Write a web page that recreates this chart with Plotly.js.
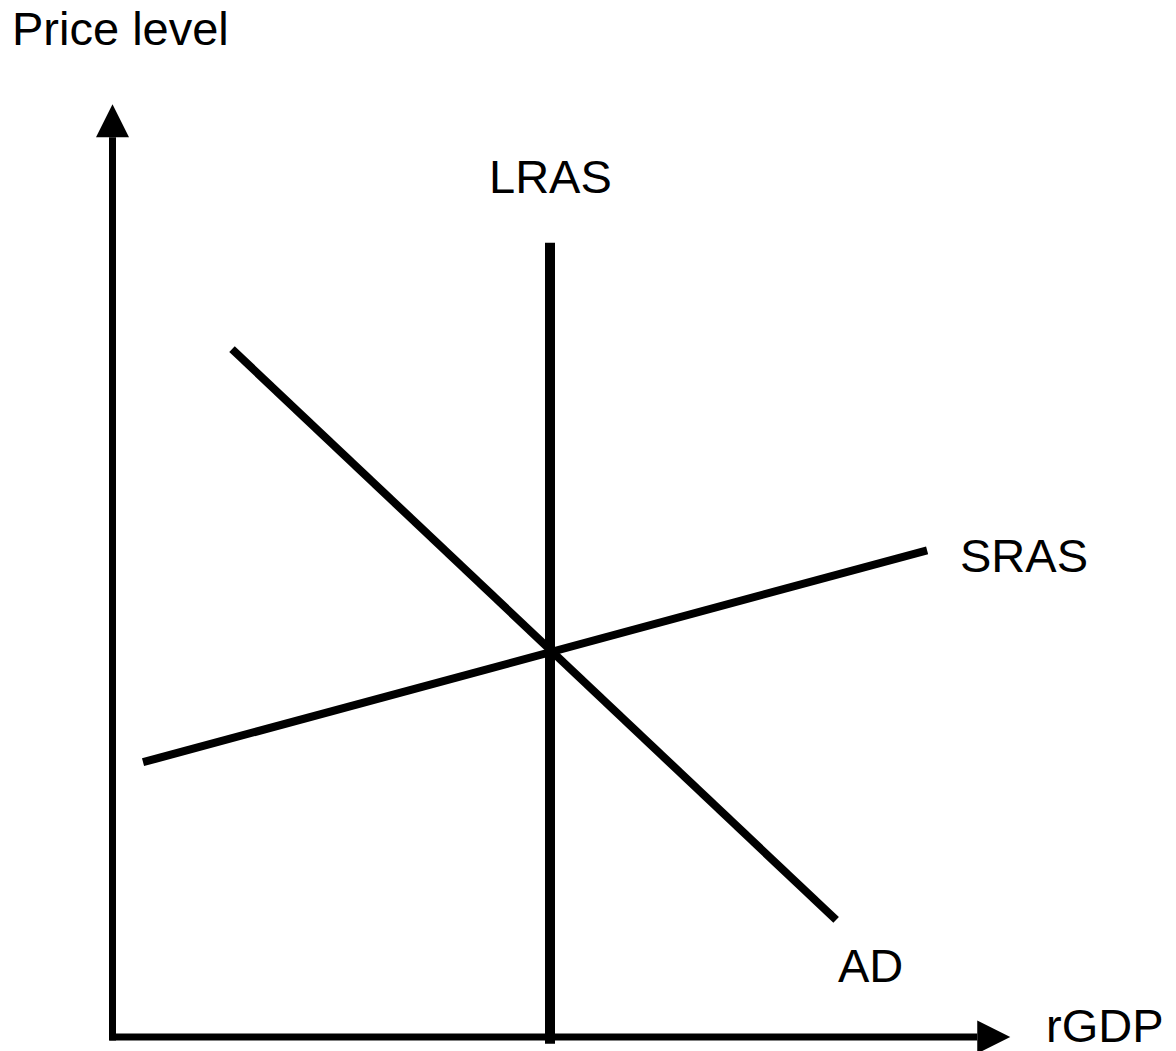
<!DOCTYPE html>
<html>
<head>
<meta charset="utf-8">
<script src="https://cdn.plot.ly/plotly-3.0.1.min.js"></script>
<style>html,body{margin:0;padding:0;background:#fff;}#chart{width:1176px;height:1051px;}</style>
</head>
<body>
<div id="chart"></div>
<script>
// ---- data (abstract economic units: rGDP on x, price level on y) ----
const curveNames = ["LRAS", "AD", "SRAS"];
const lrasX = [5.0, 5.0];
const lrasY = [-0.07, 8.21];
const adX = [1.366, 8.27];
const adY = [7.11, 1.21];
const srasX = [0.349, 9.31];
const srasY = [2.84, 5.03];
const axisEndX = 10.26;   // tip of the rGDP arrow
const axisEndY = 9.64;    // tip of the price-level arrow
const axisLabels = ["rGDP", "Price level"];

// ---- layout geometry ----
const W = 1176, H = 1051;
const pxPerX = 87.5, pxPerY = 96.75;   // scale
const originPx = [112.5, 1037];        // pixel of (0,0)
const xr = [-originPx[0] / pxPerX, (W - originPx[0]) / pxPerX];
const yr = [-(H - originPx[1]) / pxPerY, originPx[1] / pxPerY];

const arrowLen = 33, arrowHalf = 16.5; // px
const aLx = arrowLen / pxPerX, aHx = arrowHalf / pxPerY;
const aLy = arrowLen / pxPerY, aHy = arrowHalf / pxPerX;
const axW = 7;

const font = {family: "Liberation Sans, Arial, sans-serif", size: 47, color: "#000"};

const traces = [
  // axes
  {x: [0, 0], y: [-0.035, axisEndY - aLy], mode: "lines", line: {color: "#000", width: axW}},
  {x: [-0.035, axisEndX - aLx], y: [0, 0], mode: "lines", line: {color: "#000", width: axW}},
  // arrow heads
  {x: [-aHy, aHy, 0, -aHy], y: [axisEndY - aLy, axisEndY - aLy, axisEndY, axisEndY - aLy],
   mode: "lines", fill: "toself", fillcolor: "#000", line: {color: "#000", width: 0}},
  {x: [axisEndX - aLx, axisEndX - aLx, axisEndX, axisEndX - aLx], y: [-aHx, aHx, 0, -aHx],
   mode: "lines", fill: "toself", fillcolor: "#000", line: {color: "#000", width: 0}},
  // curves
  {x: lrasX, y: lrasY, mode: "lines", name: curveNames[0], line: {color: "#000", width: 10}},
  {x: adX, y: adY, mode: "lines", name: curveNames[1], line: {color: "#000", width: 8}},
  {x: srasX, y: srasY, mode: "lines", name: curveNames[2], line: {color: "#000", width: 8}}
];

const annotations = [
  {x: lrasX[0], y: 8.89, text: curveNames[0], showarrow: false, xanchor: "center", yanchor: "middle", font: font},
  {x: 8.66, y: 0.744, text: curveNames[1], showarrow: false, xanchor: "center", yanchor: "middle", font: font},
  {x: 10.42, y: 4.98, text: curveNames[2], showarrow: false, xanchor: "center", yanchor: "middle", font: font},
  {x: 11.34, y: 0.114, text: axisLabels[0], showarrow: false, xanchor: "center", yanchor: "middle", font: font},
  {x: 10 / W, xref: "paper", y: 1 - 28.5 / H, yref: "paper", text: axisLabels[1], showarrow: false,
   xanchor: "left", yanchor: "middle", font: font}
];

const layout = {
  width: W, height: H,
  margin: {l: 0, r: 0, t: 0, b: 0, pad: 0},
  paper_bgcolor: "#fff", plot_bgcolor: "#fff",
  showlegend: false,
  xaxis: {range: xr, visible: false, fixedrange: true},
  yaxis: {range: yr, visible: false, fixedrange: true},
  annotations: annotations
};

Plotly.newPlot("chart", traces, layout, {displayModeBar: false, staticPlot: true});
</script>
</body>
</html>
